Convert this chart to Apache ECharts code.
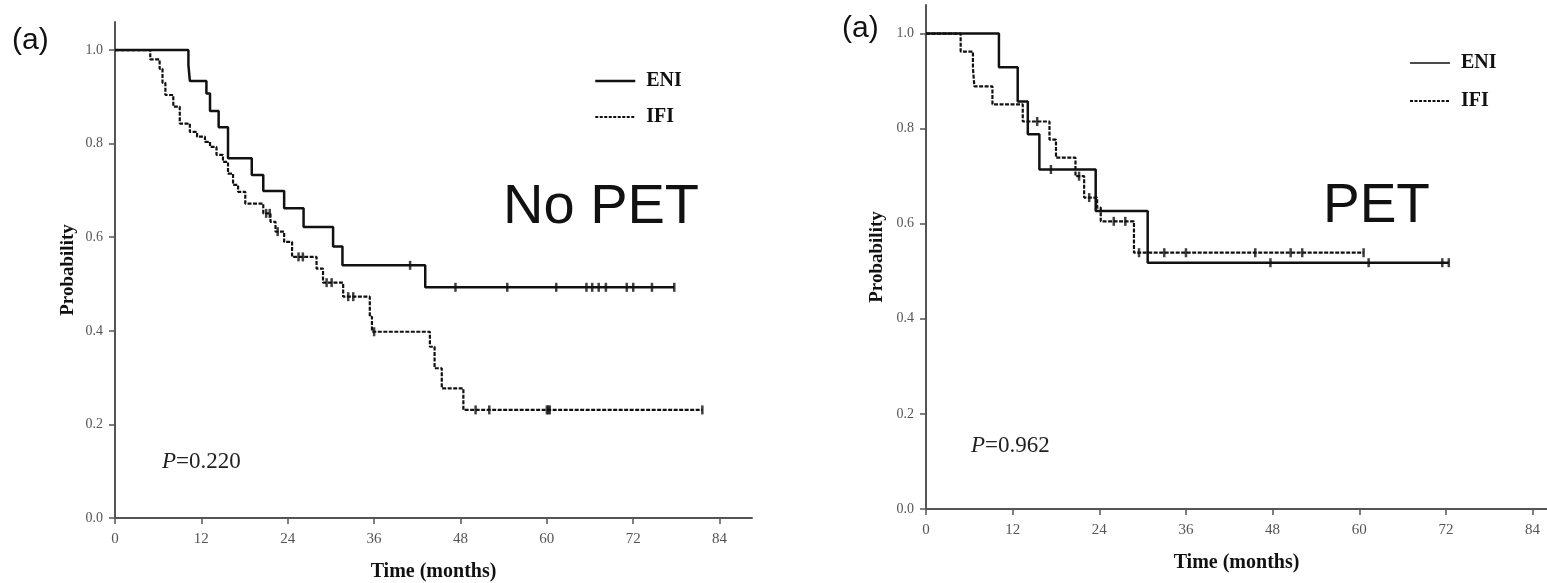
<!DOCTYPE html>
<html>
<head>
<meta charset="utf-8">
<script src="https://cdn.jsdelivr.net/npm/echarts@6/dist/echarts.min.js"></script>
<style>
  html, body { margin: 0; padding: 0; background: #fff; }
  #chart { width: 1547px; height: 583px; }
</style>
</head>
<body>
<div id="chart"></div>
<script>
// No PET panel (left)
const noPetEniTime = [0, 10.2, 10.4, 12.7, 13.2, 14.4, 15.7, 19.0, 20.6, 23.5, 26.2, 30.3, 31.6, 43.1, 77.7];
const noPetEniSurv = [1.0, 0.968, 0.934, 0.907, 0.870, 0.835, 0.769, 0.733, 0.699, 0.662, 0.622, 0.580, 0.540, 0.493, 0.493];
const noPetEniCensor = [41.0, 47.3, 54.5, 61.3, 65.5, 66.3, 67.2, 68.2, 71.1, 72.0, 74.6, 77.7];

const noPetIfiTime = [0, 4.9, 6.2, 6.6, 7.0, 8.1, 9.0, 10.4, 11.4, 12.5, 13.2, 14.1, 15.0, 15.7, 16.4, 17.1, 18.1, 20.6, 21.6, 22.3, 23.5, 24.6, 28.0, 28.9, 31.7, 35.4, 35.7, 43.75, 44.4, 45.4, 48.4, 81.6];
const noPetIfiSurv = [1.0, 0.98, 0.96, 0.93, 0.904, 0.879, 0.843, 0.825, 0.815, 0.804, 0.793, 0.776, 0.761, 0.736, 0.712, 0.697, 0.672, 0.651, 0.633, 0.612, 0.590, 0.558, 0.533, 0.503, 0.473, 0.430, 0.398, 0.366, 0.320, 0.277, 0.231, 0.231];
const noPetIfiCensor = [21.0, 21.5, 22.6, 25.5, 26.1, 29.4, 30.1, 32.4, 33.1, 36.0, 50.1, 52.0, 60.0, 60.2, 60.4, 81.6];

// PET panel (right)
const petEniTime = [0, 10.1, 12.7, 14.1, 15.7, 23.5, 30.7, 72.4];
const petEniSurv = [1.0, 0.929, 0.857, 0.788, 0.714, 0.627, 0.518, 0.518];
const petEniCensor = [17.3, 47.7, 61.3, 71.5, 72.4];

const petIfiTime = [0, 4.8, 6.5, 6.7, 9.2, 13.4, 17.1, 18.0, 20.7, 21.9, 23.7, 24.2, 28.8, 60.6];
const petIfiSurv = [1.0, 0.962, 0.927, 0.889, 0.851, 0.815, 0.777, 0.739, 0.700, 0.655, 0.634, 0.605, 0.539, 0.539];
const petIfiCensor = [15.4, 21.2, 22.6, 26.0, 27.6, 29.5, 33.0, 36.0, 45.6, 50.5, 52.1, 60.6];

const timeTicks = [0, 12, 24, 36, 48, 60, 72, 84];
const probTicks = [0, 0.2, 0.4, 0.6, 0.8, 1.0];

const serif = '"Liberation Serif", "DejaVu Serif", serif';
const sans = '"Liberation Sans", Arial, sans-serif';
const dash = [4, 1.5];

function zip(t, s) {
  return t.map((v, i) => [v, s[i]]);
}
// value of the step curve at time x
function survAt(t, s, x) {
  let v = s[0];
  for (let i = 0; i < t.length; i++) {
    if (t[i] <= x) v = s[i];
  }
  return v;
}
function censorPts(t, s, c) {
  return c.map(x => [x, survAt(t, s, x)]);
}

function xAxisOpt(idx, max, gap) {
  return {
    gridIndex: idx, type: 'value', min: 0, max: max,
    name: 'Time (months)', nameLocation: 'middle', nameGap: gap,
    nameTextStyle: { fontFamily: serif, fontWeight: 'bold', fontSize: 20, color: '#111' },
    axisLine: { show: true, lineStyle: { color: '#555', width: 2 } },
    axisTick: { show: true, inside: false, length: 6, lineStyle: { color: '#555', width: 1.5 }, customValues: timeTicks },
    axisLabel: { fontFamily: serif, fontSize: 15, color: '#555', margin: 14, customValues: timeTicks },
    splitLine: { show: false }
  };
}
function yAxisOpt(idx, gap) {
  return {
    gridIndex: idx, type: 'value', min: 0, max: 1.06,
    name: 'Probability', nameLocation: 'middle', nameGap: gap,
    nameTextStyle: { fontFamily: serif, fontWeight: 'bold', fontSize: 19, color: '#111' },
    axisLine: { show: true, lineStyle: { color: '#555', width: 2 } },
    axisTick: { show: true, inside: false, length: 6, lineStyle: { color: '#555', width: 1.5 }, customValues: probTicks },
    axisLabel: { fontFamily: serif, fontSize: 14, color: '#555', margin: 12, customValues: probTicks,
      formatter: v => v.toFixed(1) },
    splitLine: { show: false }
  };
}
function kmLine(name, idx, t, s, dashed, width) {
  return {
    name: name, type: 'line', step: 'end', xAxisIndex: idx, yAxisIndex: idx,
    data: zip(t, s), symbol: 'none', silent: true,
    lineStyle: { color: '#111', width: width, type: dashed ? dash : 'solid' },
    itemStyle: { color: '#111' }
  };
}
function censorSeries(idx, t, s, c) {
  return {
    name: 'censor', type: 'scatter', xAxisIndex: idx, yAxisIndex: idx,
    data: censorPts(t, s, c), symbol: 'rect', symbolSize: [2.5, 9],
    itemStyle: { color: '#111' }, silent: true
  };
}
function legendOpt(left, top, gap, eniWidth) {
  return {
    left: left, top: top, orient: 'vertical', itemWidth: 40, itemHeight: 14, itemGap: gap,
    selectedMode: false,
    itemStyle: { opacity: 0 },
    textStyle: { fontFamily: serif, fontWeight: 'bold', fontSize: 20, color: '#111', padding: [0, 0, 0, 6] },
    data: [
      { name: 'ENI', lineStyle: { width: eniWidth } },
      { name: 'IFI', lineStyle: { width: 2, type: [3, 1.5] } }
    ]
  };
}
function label(x, y, text, size, extra) {
  return {
    type: 'text', left: x, top: y,
    style: Object.assign({ text: text, fontSize: size, fill: '#111' }, extra || {})
  };
}
function pLabel(x, y, value) {
  return label(x, y, '{i|P}=' + value, 23, { fontFamily: serif, fill: '#222',
    rich: { i: { fontStyle: 'italic', fontFamily: serif, fontSize: 23, fill: '#222' } } });
}

const chart = echarts.init(document.getElementById('chart'));
chart.setOption({
  animation: false,
  backgroundColor: '#fff',
  grid: [
    { left: 115, top: 22, width: 637, height: 496, outerBoundsMode: 'none' },
    { left: 926, top: 5, width: 621, height: 504, outerBoundsMode: 'none' }
  ],
  xAxis: [xAxisOpt(0, 88.5, 44), xAxisOpt(1, 86, 44)],
  yAxis: [yAxisOpt(0, 37), yAxisOpt(1, 39)],
  legend: [legendOpt(589, 66, 16, 2.5), legendOpt(1404, 48, 18, 1.5)],
  series: [
    kmLine('ENI', 0, noPetEniTime, noPetEniSurv, false, 2.5),
    kmLine('IFI', 0, noPetIfiTime, noPetIfiSurv, true, 2.2),
    censorSeries(0, noPetEniTime, noPetEniSurv, noPetEniCensor),
    censorSeries(0, noPetIfiTime, noPetIfiSurv, noPetIfiCensor),
    kmLine('ENI', 1, petEniTime, petEniSurv, false, 2.5),
    kmLine('IFI', 1, petIfiTime, petIfiSurv, true, 2.2),
    censorSeries(1, petEniTime, petEniSurv, petEniCensor),
    censorSeries(1, petIfiTime, petIfiSurv, petIfiCensor)
  ],
  graphic: [
    label(12, 26, '(a)', 30, { fontFamily: sans }),
    label(842, 14, '(a)', 30, { fontFamily: sans }),
    label(503, 180, 'No PET', 56, { fontFamily: sans }),
    label(1323, 179, 'PET', 55, { fontFamily: sans }),
    pLabel(162, 450, '0.220'),
    pLabel(971, 434, '0.962')
  ]
});
</script>
</body>
</html>
